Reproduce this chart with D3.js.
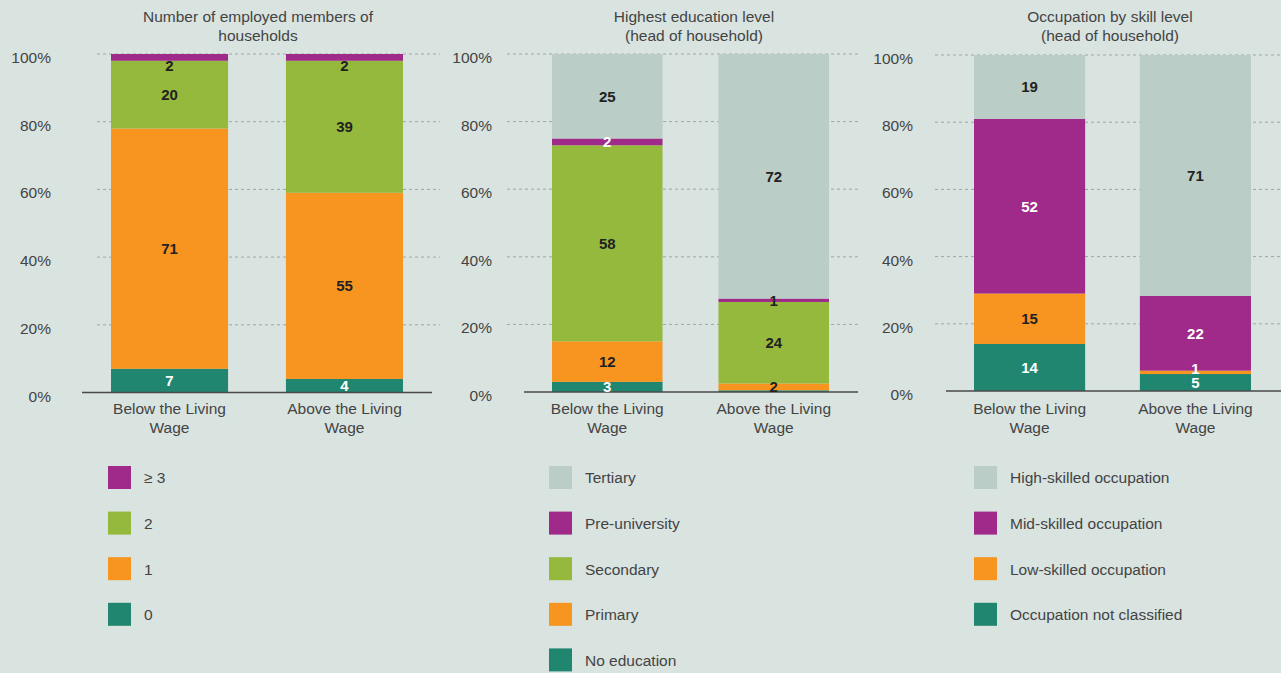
<!DOCTYPE html>
<html>
<head>
<meta charset="utf-8">
<script src="https://cdn.jsdelivr.net/npm/d3@7"></script>
<style>
  body { margin: 0; background: #d9e3e0; }
  svg text { font-family: "Liberation Sans", Arial, sans-serif; }
</style>
</head>
<body>
<div id="chart"></div>
<script>
var svgWidth = 1281;
var svgHeight = 673;

// shared categories and ticks
var groups = ["Below the Living Wage", "Above the Living Wage"];
var yTicks = [0, 0.2, 0.4, 0.6, 0.8, 1];

// Number of employed members of households (bottom to top)
var employedKeys = ["0", "1", "2", "≥ 3"];
var employedBelow = [7, 71, 20, 2];
var employedAbove = [4, 55, 39, 2];

// Highest education level (bottom to top)
var educationKeys = ["No education", "Primary", "Secondary", "Pre-university", "Tertiary"];
var educationBelow = [3, 12, 58, 2, 25];
var educationAbove = [0.5, 2, 24, 1, 72];

// Occupation by skill level (bottom to top)
var skillKeys = ["Occupation not classified", "Low-skilled occupation", "Mid-skilled occupation", "High-skilled occupation"];
var skillBelow = [14, 15, 52, 19];
var skillAbove = [5, 1, 22, 71];

var teal = "#218670", orange = "#f79520", green = "#95b93c", purple = "#a02a89", grey = "#bbcdc7";
var dark = "#222", white = "#fff", textGrey = "#444";
var fontSize = "15.5px";

var svg = d3
  .select("#chart")
  .append("svg")
  .attr("width", svgWidth)
  .attr("height", svgHeight);

var panels = [
  {
    title: ["Number of employed members of", "households"],
    titleX: 258,
    keys: employedKeys,
    values: [employedBelow, employedAbove],
    colors: [teal, orange, green, purple],
    labelColors: [white, dark, dark, dark],
    thinColor: dark,
    thinLift: 0,
    topLabelBelow: true,
    axisX: 51,
    gridX: [97, 440],
    baseX: [82, 432],
    barX: [111, 403],
    padding: 0.331,
    yRange: [392.5, 54],
    legendX: 108
  },
  {
    title: ["Highest education level", "(head of household)"],
    titleX: 694,
    keys: educationKeys,
    values: [educationBelow, educationAbove],
    colors: [teal, orange, green, purple, grey],
    labelColors: [white, dark, dark, white, dark],
    thinColor: dark,
    thinLift: 0,
    topLabelBelow: false,
    axisX: 492,
    gridX: [507, 858],
    baseX: [524, 858],
    barX: [552, 829],
    padding: 0.336,
    yRange: [392, 54],
    legendX: 549
  },
  {
    title: ["Occupation by skill level", "(head of household)"],
    titleX: 1110,
    keys: skillKeys,
    values: [skillBelow, skillAbove],
    colors: [teal, orange, purple, grey],
    labelColors: [white, dark, white, dark],
    thinColor: white,
    thinLift: 4,
    topLabelBelow: false,
    axisX: 913,
    gridX: [935, 1281],
    baseX: [946, 1281],
    barX: [974, 1251],
    padding: 0.33,
    yRange: [391, 55],
    legendX: 974
  }
];

panels.forEach(function (p) {
  var g = svg.append("g");

  // build rows for the stack from the two value arrays
  var rows = groups.map(function (name, i) {
    var row = { group: name };
    p.keys.forEach(function (k, j) {
      row[k] = p.values[i][j];
    });
    return row;
  });

  var stacked = d3.stack().keys(p.keys).offset(d3.stackOffsetExpand)(rows);

  var x = d3.scaleBand().domain(groups).range(p.barX).paddingInner(p.padding).paddingOuter(0);
  var y = d3.scaleLinear().domain([0, 1]).range(p.yRange);

  // title
  g.append("text")
    .attr("x", p.titleX)
    .attr("y", 22)
    .attr("text-anchor", "middle")
    .style("font-size", fontSize)
    .attr("fill", textGrey)
    .selectAll("tspan")
    .data(p.title)
    .enter()
    .append("tspan")
    .attr("x", p.titleX)
    .attr("dy", (d, i) => (i === 0 ? 0 : 19))
    .text((d) => d);

  // dashed gridlines
  g.selectAll(".grid")
    .data(yTicks.filter((t) => t > 0))
    .enter()
    .append("line")
    .attr("x1", p.gridX[0])
    .attr("x2", p.gridX[1])
    .attr("y1", (d) => y(d))
    .attr("y2", (d) => y(d))
    .attr("stroke", "#9ea7a4")
    .attr("stroke-width", 1)
    .attr("stroke-dasharray", "3,3");

  // y axis labels
  var yAxis = g
    .append("g")
    .attr("transform", `translate(${p.axisX}, 0)`)
    .call(d3.axisLeft(y).tickValues(yTicks).tickFormat(d3.format(".0%")).tickSize(0).tickPadding(0));
  yAxis.select(".domain").remove();
  yAxis
    .selectAll("text")
    .attr("dy", "0.55em")
    .style("font-size", fontSize)
    .style("font-family", '"Liberation Sans", Arial, sans-serif')
    .attr("fill", textGrey);

  // stacked bars
  stacked.forEach(function (layer, li) {
    g.selectAll(null)
      .data(layer)
      .enter()
      .append("rect")
      .attr("x", (d) => x(d.data.group))
      .attr("width", x.bandwidth())
      .attr("y", (d) => y(d[1]))
      .attr("height", (d) => y(d[0]) - y(d[1]))
      .attr("fill", p.colors[li]);
  });

  // baseline
  g.append("line")
    .attr("x1", p.baseX[0])
    .attr("x2", p.baseX[1])
    .attr("y1", y(0))
    .attr("y2", y(0))
    .attr("stroke", "#4a4a4a")
    .attr("stroke-width", 1.5);

  // value labels
  stacked.forEach(function (layer, li) {
    var isTop = li === stacked.length - 1;
    g.selectAll(null)
      .data(layer.filter((d) => d.data[layer.key] >= 1))
      .enter()
      .append("text")
      .attr("x", (d) => x(d.data.group) + x.bandwidth() / 2)
      .attr("y", function (d) {
        var h = y(d[0]) - y(d[1]);
        if (isTop && p.topLabelBelow && h < 8) return y(d[0]) + 5;
        if (h < 5) return (y(d[0]) + y(d[1])) / 2 - p.thinLift; // thin segment
        return (y(d[0]) + y(d[1])) / 2;
      })
      .attr("dy", "0.36em")
      .attr("text-anchor", "middle")
      .style("font-size", "15px")
      .style("font-weight", "bold")
      .attr("fill", function (d) {
        var h = y(d[0]) - y(d[1]);
        return h < 5 ? p.thinColor : p.labelColors[li];
      })
      .text((d) => d.data[layer.key]);
  });

  // category labels, two lines
  groups.forEach(function (name) {
    var cut = name.lastIndexOf(" ");
    var lines = [name.slice(0, cut), name.slice(cut + 1)];
    var cx = x(name) + x.bandwidth() / 2;
    g.append("text")
      .attr("x", cx)
      .attr("y", 414)
      .attr("text-anchor", "middle")
      .style("font-size", fontSize)
      .attr("fill", textGrey)
      .selectAll("tspan")
      .data(lines)
      .enter()
      .append("tspan")
      .attr("x", cx)
      .attr("dy", (d, i) => (i === 0 ? 0 : 19))
      .text((d) => d);
  });

  // legend, top series first
  var legendKeys = p.keys.slice().reverse();
  var legendColors = p.colors.slice().reverse();
  var legend = g
    .selectAll(".legend")
    .data(legendKeys)
    .enter()
    .append("g")
    .attr("transform", (d, i) => `translate(${p.legendX}, ${466 + i * 45.6})`);

  legend
    .append("rect")
    .attr("width", 23)
    .attr("height", 23)
    .attr("fill", (d, i) => legendColors[i]);

  legend
    .append("text")
    .attr("x", 36)
    .attr("y", 12)
    .attr("dy", "0.35em")
    .style("font-size", fontSize)
    .attr("fill", textGrey)
    .text((d) => d);
});
</script>
</body>
</html>
